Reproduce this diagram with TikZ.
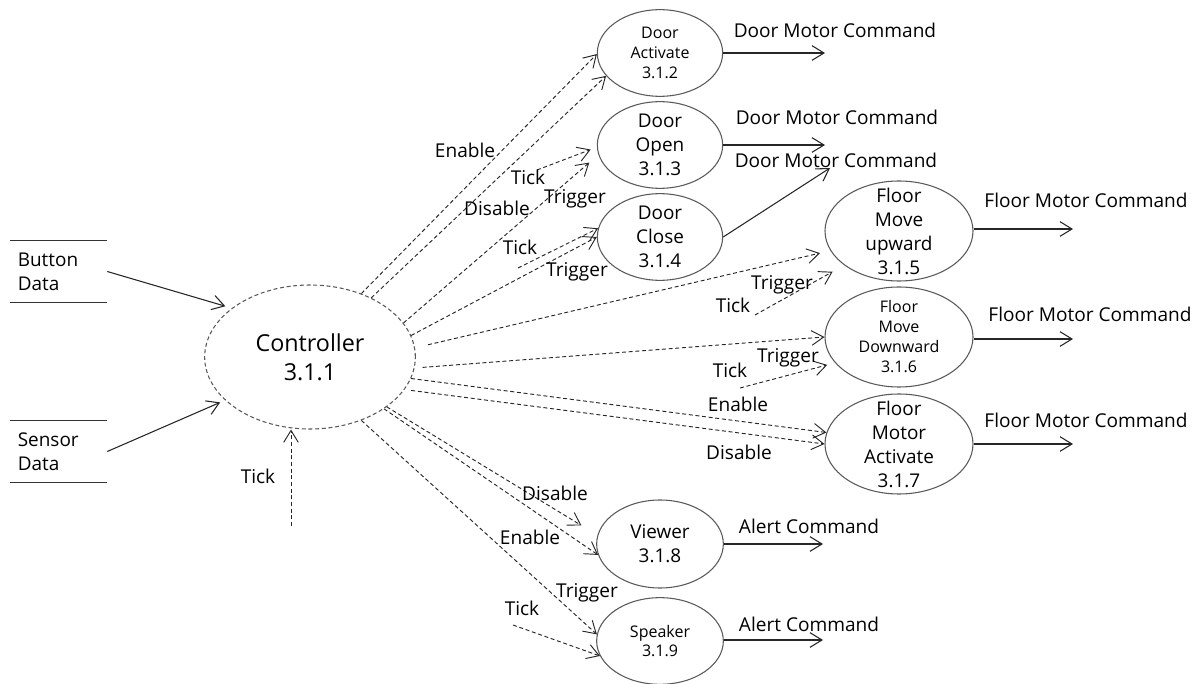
\documentclass[tikz,border=0pt]{standalone}
\usepackage{fontspec}
\setmainfont{Open Sans}
\usetikzlibrary{shapes.geometric,arrows.meta}
\begin{document}
\begin{tikzpicture}[x=0.75pt,y=-0.75pt,
  proc/.style={ellipse,draw=black!65,line width=0.8pt,inner sep=0pt},
  ptext/.style={align=center,inner sep=0pt,font=\fontsize{14.2}{18}\selectfont},
  psmall/.style={align=center,inner sep=0pt,font=\fontsize{12}{15}\selectfont},
  barbtip/.style={-{Straight Barb[length=9pt,width=11pt]}},
  dflow/.style={barbtip,draw=black!85,line width=0.7pt,dash pattern=on 3pt off 2pt},
  sflow/.style={barbtip,draw=black!85,line width=0.8pt},
  lbl/.style={inner sep=0pt,font=\fontsize{14.3}{17}\selectfont},
  store/.style={inner sep=0pt,minimum width=72.75pt,minimum height=45.75pt,text width=61pt,align=left,font=\fontsize{14.2}{18}\selectfont},
  storeline/.style={draw=black!80,line width=0.8pt},
]
\useasboundingbox (0,0) rectangle (1197,684);

% controller
\node[proc,dash pattern=on 3pt off 2pt,minimum width=158pt,minimum height=108pt,
  label={[ptext,font=\fontsize{17.5}{22}\selectfont]center:Controller\\3.1.1}] (ctrl) at (310,357) {};

% data stores
\node[store] (bd) at (58.5,271.5) {Button\\Data};
\node[store] (sd) at (58.5,451.5) {Sensor\\Data};
\draw[storeline] (bd.north west) -- (bd.north east) (bd.south west) -- (bd.south east);
\draw[storeline] (sd.north west) -- (sd.north east) (sd.south west) -- (sd.south east);

% processes
\node[proc,minimum width=94pt,minimum height=65pt,label={[psmall]center:Door\\Activate\\3.1.2}] (da) at (660,53) {};
\node[proc,minimum width=94pt,minimum height=65pt,label={[ptext]center:Door\\Open\\3.1.3}] (dopen) at (660,145) {};
\node[proc,minimum width=94pt,minimum height=65pt,label={[ptext]center:Door\\Close\\3.1.4}] (dc) at (660,237) {};
\node[proc,minimum width=111pt,minimum height=75pt,label={[ptext]center:Floor\\Move\\upward\\3.1.5}] (fmu) at (899,231) {};
\node[proc,minimum width=111pt,minimum height=75pt,label={[psmall]center:Floor\\Move\\Downward\\3.1.6}] (fmd) at (899,337) {};
\node[proc,minimum width=111pt,minimum height=75pt,label={[ptext]center:Floor\\Motor\\Activate\\3.1.7}] (fma) at (899,444) {};
\node[proc,minimum width=95pt,minimum height=66pt,label={[ptext]center:Viewer\\3.1.8}] (vw) at (660,544) {};
\node[proc,minimum width=95pt,minimum height=65pt,label={[psmall,font=\fontsize{12}{14}\selectfont]center:Speaker\\3.1.9}] (sp) at (660,641) {};

% inputs to controller
\draw[sflow,shorten >=5pt] (bd.east) -- (ctrl.148);
\draw[sflow,shorten >=4pt] (sd.east) -- (ctrl.207);
\coordinate (tk) at (291,526);
\draw[dflow] (tk) -- (tk |- ctrl.south);
\node[lbl] (ltk) at (258,476) {Tick};

% outputs
\coordinate (oda) at (825,53);
\coordinate (odo) at (825,145);
\coordinate (odc) at (830,168);
\coordinate (ofmu) at (1073,229);
\coordinate (ofmd) at (1073,339);
\coordinate (ofma) at (1073,444);
\coordinate (ovw) at (823,544);
\coordinate (osp) at (823,640);
\draw[sflow] (da.east) -- (oda);
\draw[sflow] (dopen.east) -- (odo);
\draw[sflow] (dc.east) -- (odc);
\draw[sflow] (fmu.east |- ofmu) -- (ofmu);
\draw[sflow] (fmd.east |- ofmd) -- (ofmd);
\draw[sflow] (fma.east) -- (ofma);
\draw[sflow] (vw.east) -- (ovw);
\draw[sflow] (sp.east |- osp) -- (osp);
\node[lbl] (o1) at (835,30) {Door Motor Command};
\node[lbl] (o2) at (837,117) {Door Motor Command};
\node[lbl] (o3) at (836,160) {Door Motor Command};
\node[lbl] (o4) at (1086,200) {Floor Motor Command};
\node[lbl] (o5) at (1090,314) {Floor Motor Command};
\node[lbl] (o6) at (1086,420) {Floor Motor Command};
\node[lbl] (o7) at (809,526) {Alert Command};
\node[lbl] (o8) at (809,624) {Alert Command};

% controller -> processes
\draw[dflow] (ctrl.51) -- (da.181);
\draw[dflow] (ctrl.44) -- (da.203);
\node[lbl] (l1) at (465,150) {Enable};
\node[lbl] (l2) at (497,208) {Disable};

\draw[dflow,shorten >=9pt] (ctrl.20) -- (dopen.189);
\coordinate (tdo) at (537,170);
\draw[dflow,shorten >=5pt] (tdo) -- (dopen.182);
\node[lbl] (l3) at (528,177) {Tick};
\node[lbl] (l4) at (575,199) {Trigger};

\draw[dflow] (ctrl.12.5) -- (dc.180);
\coordinate (tdc) at (518,268);
\draw[dflow] (tdc) -- (dc.172);
\node[lbl] (l5) at (520,247) {Tick};
\node[lbl] (l6) at (577,272) {Trigger};

\draw[dflow,shorten <=10pt,shorten >=8pt] (ctrl.5) -- (fmu.196);
\coordinate (tfmu) at (755,315);
\draw[dflow,shorten >=10pt] (tfmu) -- (fmu.212);
\node[lbl] (l7) at (782,285) {Trigger};
\node[lbl] (l8) at (733,305) {Tick};

\draw[dflow,shorten <=6pt] (ctrl.-6.6) -- (fmd.180);
\coordinate (tfmd) at (740,388);
\draw[dflow,shorten >=6pt] (tfmd) -- (fmd.202);
\node[lbl] (l9) at (788,358) {Trigger};
\node[lbl] (l10) at (730,370) {Tick};

\draw[dflow] (ctrl.-12.7) -- (fma.171);
\draw[dflow,shorten <=5pt] (ctrl.-19.3) -- (fma.180);
\node[lbl] (l11) at (738,404) {Enable};
\node[lbl] (l12) at (739,452) {Disable};

\draw[dflow,shorten >=14pt] (ctrl.-33) -- (vw.172);
\draw[dflow] (ctrl.-35) -- (vw.190);
\node[lbl] (l13) at (555,493) {Disable};
\node[lbl] (l14) at (530,537) {Enable};

\draw[dflow] (ctrl.-51) -- (sp.174);
\coordinate (tsp) at (513,625);
\draw[dflow] (tsp) -- (sp.194);
\node[lbl] (l15) at (587,593) {Trigger};
\node[lbl] (l16) at (522,608) {Tick};
\end{tikzpicture}
\end{document}
